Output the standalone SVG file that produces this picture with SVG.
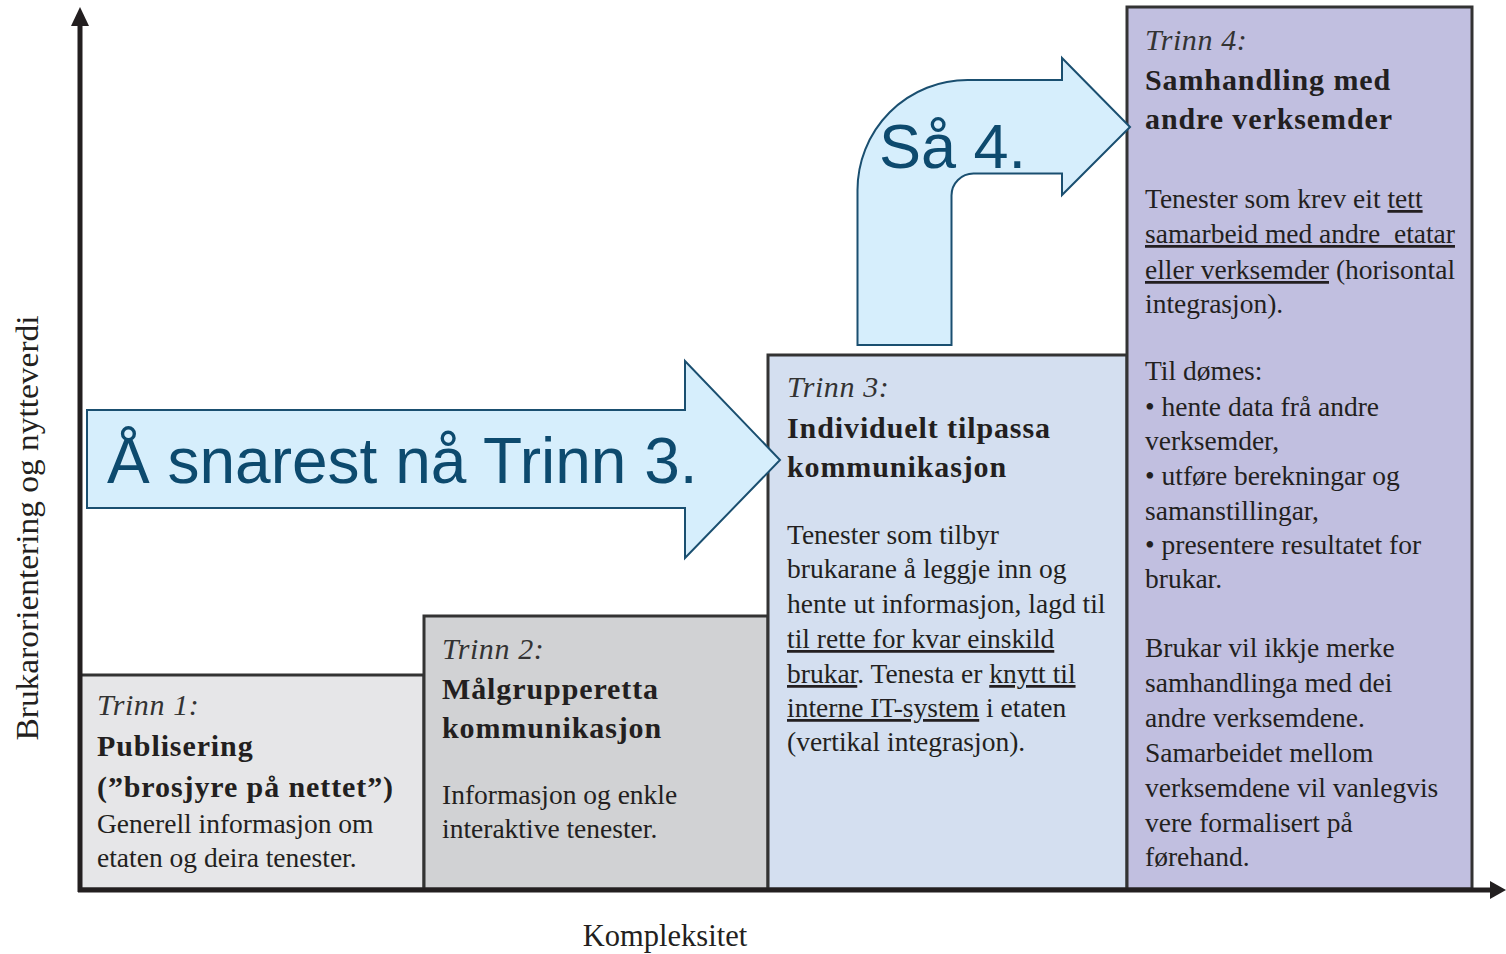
<svg xmlns="http://www.w3.org/2000/svg" width="1506" height="954" viewBox="0 0 1506 954">
<style>
.box{stroke:#333;stroke-width:3}
.t{font-family:"Liberation Serif","Times New Roman",serif;fill:#231f20}
.it{font-size:30px;font-style:italic;letter-spacing:0.6px;fill:#333}
.bd{font-size:30px;font-weight:bold;letter-spacing:0.9px}
.bo{font-size:27.5px}
.u{text-decoration:underline}
.ar{fill:#d6eefc;stroke:#1a4f70;stroke-width:2;stroke-linejoin:miter}
.at{font-family:"Liberation Sans",Arial,sans-serif;fill:#0d4a6e}
</style>
<rect width="1506" height="954" fill="#fff"/>
<g id="box1">
<rect class="box" x="80" y="675" width="344" height="214" fill="#e6e6e8"/>
<text class="t it" x="97" y="715">Trinn 1:</text>
<text class="t bd" x="97" y="756">Publisering</text>
<text class="t bd" x="97" y="797">(”brosjyre på nettet”)</text>
<text class="t bo" x="97" y="833">Generell informasjon om</text>
<text class="t bo" x="97" y="867">etaten og deira tenester.</text>
</g>
<g id="box2">
<rect class="box" x="424" y="616" width="344" height="273" fill="#d1d2d4"/>
<text class="t it" x="442" y="659">Trinn 2:</text>
<text class="t bd" x="442" y="699">Målgrupperetta</text>
<text class="t bd" x="442" y="738">kommunikasjon</text>
<text class="t bo" x="442" y="804">Informasjon og enkle</text>
<text class="t bo" x="442" y="838">interaktive tenester.</text>
</g>
<g id="box3">
<rect class="box" x="768" y="355" width="359" height="534" fill="#d4dff0"/>
<text class="t it" x="787" y="397">Trinn 3:</text>
<text class="t bd" x="787" y="438">Individuelt tilpassa</text>
<text class="t bd" x="787" y="477">kommunikasjon</text>
<text class="t bo" x="787" y="544">Tenester som tilbyr</text>
<text class="t bo" x="787" y="578">brukarane å leggje inn og</text>
<text class="t bo" x="787" y="613">hente ut informasjon, lagd til</text>
<text class="t bo u" x="787" y="648">til rette for kvar einskild</text>
<text class="t bo" x="787" y="683"><tspan class="u">brukar</tspan>. Tenesta er <tspan class="u">knytt til</tspan></text>
<text class="t bo" x="787" y="717"><tspan class="u">interne IT-system</tspan> i etaten</text>
<text class="t bo" x="787" y="751">(vertikal integrasjon).</text>
</g>
<g id="box4">
<rect class="box" x="1127" y="7" width="345" height="882" fill="#c1bfe0"/>
<text class="t it" x="1145" y="50">Trinn 4:</text>
<text class="t bd" x="1145" y="90">Samhandling med</text>
<text class="t bd" x="1145" y="129">andre verksemder</text>
<text class="t bo" x="1145" y="208">Tenester som krev eit <tspan class="u">tett</tspan></text>
<text class="t bo" x="1145" y="243" xml:space="preserve"><tspan class="u">samarbeid med andre  etatar</tspan></text>
<text class="t bo" x="1145" y="279"><tspan class="u">eller verksemder</tspan> (horisontal</text>
<text class="t bo" x="1145" y="313">integrasjon).</text>
<text class="t bo" x="1145" y="380">Til dømes:</text>
<text class="t bo" x="1145" y="416">• hente data frå andre</text>
<text class="t bo" x="1145" y="450">verksemder,</text>
<text class="t bo" x="1145" y="485">• utføre berekningar og</text>
<text class="t bo" x="1145" y="520">samanstillingar,</text>
<text class="t bo" x="1145" y="554">• presentere resultatet for</text>
<text class="t bo" x="1145" y="588">brukar.</text>
<text class="t bo" x="1145" y="657">Brukar vil ikkje merke</text>
<text class="t bo" x="1145" y="692">samhandlinga med dei</text>
<text class="t bo" x="1145" y="727">andre verksemdene.</text>
<text class="t bo" x="1145" y="762">Samarbeidet mellom</text>
<text class="t bo" x="1145" y="797">verksemdene vil vanlegvis</text>
<text class="t bo" x="1145" y="832">vere formalisert på</text>
<text class="t bo" x="1145" y="866">førehand.</text>
</g>
<g id="axes">
<line x1="80" y1="892" x2="80" y2="22" stroke="#231f20" stroke-width="5"/>
<polygon points="80,7 71,26 89,26" fill="#231f20"/>
<line x1="78" y1="890" x2="1492" y2="890" stroke="#231f20" stroke-width="5"/>
<polygon points="1506,890 1490,881 1490,899" fill="#231f20"/>
<text class="t" x="665" y="946" font-size="30.5" text-anchor="middle">Kompleksitet</text>
<text class="t" font-size="32" transform="translate(38,528) rotate(-90)" text-anchor="middle" textLength="425" lengthAdjust="spacingAndGlyphs">Brukarorientering og nytteverdi</text>
</g>
<g id="connectors">
<g id="arrow-trinn3">
<polygon class="ar" points="87,410 685,410 685,361 780,460 685,558 685,508 87,508"/>
<text class="at" x="107" y="483" font-size="64">Å snarest nå Trinn 3.</text>
</g>
<g id="arrow-trinn4">
<path class="ar" d="M857.5,345 L857.5,190 A110,110 0 0 1 967.5,80 L1062,80 L1062,58 L1130,127 L1062,195 L1062,173.5 L973.5,173.5 A22,22 0 0 0 951.5,195.5 L951.5,345 Z"/>
<text class="at" x="879" y="168" font-size="63">Så 4.</text>
</g>
</g>
</svg>
